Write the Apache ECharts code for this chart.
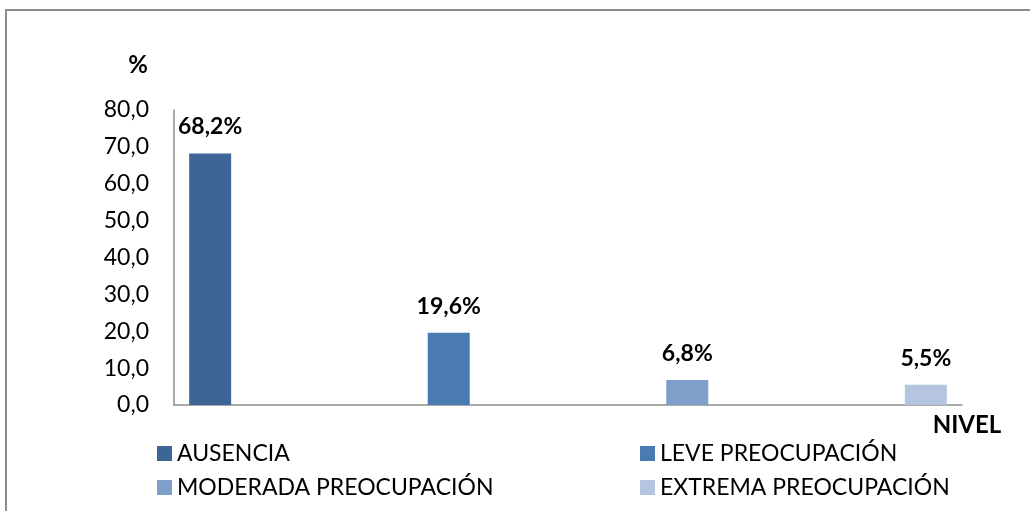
<!DOCTYPE html>
<html>
<head>
<meta charset="utf-8">
<script src="https://cdn.jsdelivr.net/npm/echarts@6/dist/echarts.min.js"></script>
<style>
  html, body { margin: 0; padding: 0; background: #fff; }
  #chart { width: 1030px; height: 511px; }
</style>
</head>
<body>
<div id="chart"></div>
<script>
// niveles de preocupación (%)
var niveles = ['AUSENCIA', 'LEVE PREOCUPACIÓN', 'MODERADA PREOCUPACIÓN', 'EXTREMA PREOCUPACIÓN'];
var porcentajes = [68.2, 19.6, 6.8, 5.5];
var colores = ['#3d6596', '#4a7ab2', '#7f9fcb', '#b5c4df'];
var categorias = [''];

var fuente = 'Lato, "Open Sans", sans-serif';

function coma(v, d) {
    return v.toFixed(d).replace('.', ',');
}

var myChart = echarts.init(document.getElementById('chart'));

var series = niveles.map(function (n, i) {
    return {
        name: n,
        type: 'bar',
        data: [porcentajes[i]],
        barWidth: 42,
        barGap: '468%',
        itemStyle: { color: colores[i] },
        label: {
            show: true,
            position: 'top',
            distance: 15,
            fontFamily: fuente,
            fontSize: 23,
            fontWeight: 'bold',
            color: '#000',
            formatter: function (p) { return coma(p.value, 1) + '%'; }
        }
    };
});

var leyendaTexto = { fontFamily: fuente, fontSize: 23, color: '#000', lineHeight: 23 };

myChart.setOption({
    animation: false,
    graphic: [{
        type: 'rect',
        shape: { x: 6, y: 10, width: 1200, height: 700 },
        style: { fill: 'none', stroke: '#8c8c8c', lineWidth: 2 },
        silent: true
    }],
    grid: { left: 174, right: 68, top: 110, bottom: 106 },
    legend: [{
        orient: 'vertical',
        left: 152,
        top: 437,
        itemWidth: 15,
        itemHeight: 15,
        itemGap: 11,
        icon: 'rect',
        data: [niveles[0], niveles[2]],
        textStyle: leyendaTexto
    }, {
        orient: 'vertical',
        left: 635,
        top: 437,
        itemWidth: 15,
        itemHeight: 15,
        itemGap: 11,
        icon: 'rect',
        data: [niveles[1], niveles[3]],
        textStyle: leyendaTexto
    }],
    xAxis: {
        type: 'category',
        data: categorias,
        name: 'NIVEL',
        nameLocation: 'end',
        nameGap: 5,
        nameTextStyle: {
            fontFamily: fuente, fontSize: 24, fontWeight: 'bold', color: '#000',
            align: 'center', verticalAlign: 'top', padding: [8, 0, 0, 0]
        },
        axisLine: { lineStyle: { color: '#8e8e8e', width: 1.5 } },
        axisTick: { show: false },
        axisLabel: { show: false }
    },
    yAxis: {
        type: 'value',
        min: 0,
        max: 80,
        interval: 10,
        name: '%',
        nameLocation: 'end',
        nameGap: 33,
        nameTextStyle: {
            fontFamily: fuente, fontSize: 24, fontWeight: 'bold', color: '#000',
            align: 'right', padding: [0, 26, 0, 0]
        },
        axisLine: { show: true, lineStyle: { color: '#8e8e8e', width: 1.5 } },
        axisTick: { show: false },
        splitLine: { show: false },
        axisLabel: {
            fontFamily: fuente, fontSize: 23, color: '#000', margin: 25,
            formatter: function (v) { return coma(v, 1); }
        }
    },
    series: series
});
</script>
</body>
</html>
